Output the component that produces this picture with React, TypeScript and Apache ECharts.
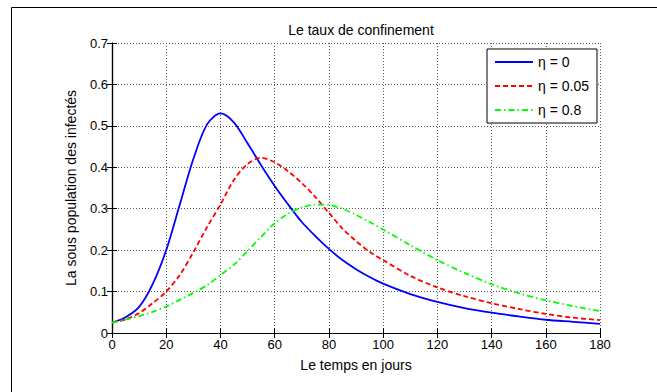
import React, { useEffect, useRef } from "react";
import * as echarts from "echarts";

// Time axis (days) and the infected sub-population for each confinement rate
const days = [0, 5, 10, 15, 20, 25, 30, 35, 40, 45, 50, 55, 60, 65, 70, 75, 80, 85, 90, 95, 100, 110, 120, 130, 140, 150, 160, 170, 180];

const eta0 = [0.025, 0.038, 0.063, 0.118, 0.2, 0.31, 0.42, 0.503, 0.53, 0.508, 0.458, 0.405, 0.355, 0.31, 0.268, 0.234, 0.203, 0.176, 0.154, 0.135, 0.119, 0.094, 0.075, 0.06, 0.049, 0.04, 0.032, 0.027, 0.022];
const eta005 = [0.025, 0.033, 0.048, 0.072, 0.1, 0.14, 0.195, 0.255, 0.31, 0.37, 0.408, 0.423, 0.412, 0.39, 0.362, 0.328, 0.29, 0.252, 0.222, 0.196, 0.176, 0.138, 0.11, 0.089, 0.072, 0.058, 0.046, 0.037, 0.031];
const eta08 = [0.025, 0.032, 0.041, 0.051, 0.064, 0.08, 0.097, 0.115, 0.14, 0.165, 0.198, 0.232, 0.265, 0.288, 0.303, 0.31, 0.309, 0.3, 0.285, 0.268, 0.25, 0.212, 0.176, 0.145, 0.118, 0.096, 0.079, 0.065, 0.053];

const seriesNames = ["η = 0", "η = 0.05", "η = 0.8"];

const FONT = "Liberation Sans, Arial, sans-serif";

const pairs = (ys: number[]) => days.map((d, i) => [d, ys[i]]);

export default function App() {
  const ref = useRef<HTMLDivElement>(null);

  useEffect(() => {
    document.body.style.margin = "0";
    if (!ref.current) return;
    const chart = echarts.init(ref.current, null, { renderer: "svg" });

    const gridLine = { show: true, lineStyle: { color: "#5a5a5a", type: [1, 2] as any, width: 1 } };
    const blackLine = { show: true, lineStyle: { color: "#000", width: 1.2 } };
    const tick = { show: true, inside: true, length: 5, lineStyle: { color: "#000" } };

    const lineSeries = (name: string, ys: number[], color: string, type: any) => ({
      name,
      type: "line",
      data: pairs(ys),
      smooth: 0.3,
      showSymbol: false,
      symbol: "none",
      lineStyle: { color, width: 1.8, type },
      itemStyle: { color },
    });

    chart.setOption({
      animation: false,
      backgroundColor: "#fff",
      textStyle: { fontFamily: FONT },
      title: {
        text: "Le taux de confinement",
        left: 356,
        textAlign: "center",
        top: 18,
        textStyle: { fontFamily: FONT, fontSize: 14, fontWeight: "normal", color: "#000" },
      },
      graphic: [
        {
          type: "rect",
          shape: { x: 11.5, y: 7.5, width: 800, height: 600 },
          style: { fill: "none", stroke: "#000", lineWidth: 1 },
          silent: true,
        },
      ],
      legend: {
        orient: "vertical",
        left: 487,
        top: 49,
        padding: [6, 8, 6, 7],
        itemWidth: 38,
        itemHeight: 12,
        itemGap: 10,
        backgroundColor: "#fff",
        borderColor: "#000",
        borderWidth: 1,
        borderRadius: 0,
        itemStyle: { opacity: 0 },
        textStyle: { fontFamily: FONT, fontSize: 14, color: "#000" },
        data: seriesNames,
      },
      grid: { left: 112, right: 57, top: 43, bottom: 59 },
      xAxis: [
        {
          type: "value",
          min: 0,
          max: 180,
          interval: 20,
          name: "Le temps en jours",
          nameLocation: "middle",
          nameGap: 25,
          nameTextStyle: { fontFamily: FONT, fontSize: 14, color: "#000" },
          axisLine: blackLine,
          axisTick: tick,
          axisLabel: { fontFamily: FONT, fontSize: 13, color: "#000", margin: 5 },
          splitLine: gridLine,
        },
        {
          type: "value",
          position: "top",
          min: 0,
          max: 180,
          interval: 20,
          axisLine: blackLine,
          axisTick: tick,
          axisLabel: { show: false },
          splitLine: { show: false },
        },
      ],
      yAxis: [
        {
          type: "value",
          min: 0,
          max: 0.7,
          interval: 0.1,
          name: "La sous population des infectés",
          nameLocation: "middle",
          nameGap: 34,
          nameRotate: 90,
          nameTextStyle: { fontFamily: FONT, fontSize: 14, color: "#000" },
          axisLine: blackLine,
          axisTick: tick,
          axisLabel: {
            fontFamily: FONT,
            fontSize: 13,
            color: "#000",
            margin: 4,
            formatter: (v: number) => (v === 0 ? "0" : v.toFixed(1)),
          },
          splitLine: gridLine,
        },
        {
          type: "value",
          position: "right",
          min: 0,
          max: 0.7,
          interval: 0.1,
          axisLine: blackLine,
          axisTick: tick,
          axisLabel: { show: false },
          splitLine: { show: false },
        },
      ],
      series: [
        lineSeries(seriesNames[0], eta0, "#0000ff", "solid"),
        lineSeries(seriesNames[1], eta005, "#ff0000", [5, 3]),
        lineSeries(seriesNames[2], eta08, "#00ff00", [6, 3, 1.5, 3]),
      ],
    });

    return () => chart.dispose();
  }, []);

  return <div ref={ref} style={{ width: 657, height: 392 }} />;
}
